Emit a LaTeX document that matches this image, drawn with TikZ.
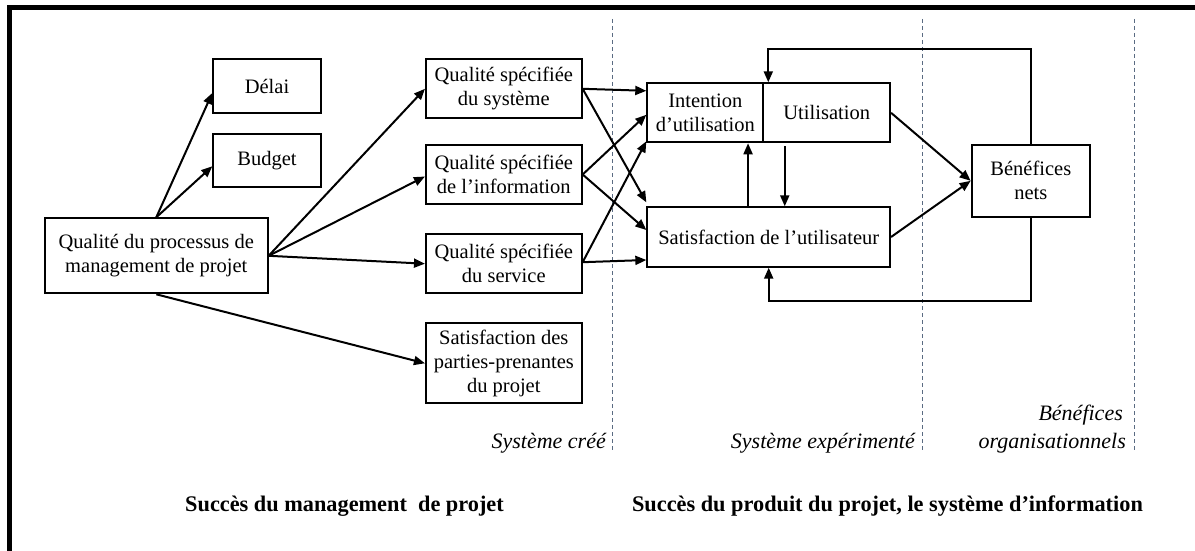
\documentclass[tikz,border=0pt]{standalone}
\usepackage{fontspec}
\setmainfont{Liberation Serif}
\usetikzlibrary{arrows.meta}
\definecolor{dashcol}{HTML}{5A6B82}
\begin{document}
\begin{tikzpicture}[x=1pt,y=-1pt,
  box/.style={draw, line width=2pt, inner sep=0pt, align=center, font=\fontsize{20.5}{24}\selectfont},
  arr/.style={line width=2pt, -{Triangle[length=11pt,width=9pt]}},
  sepline/.style={dashcol, line width=1pt, dash pattern=on 4pt off 3pt},
  zone/.style={font=\fontsize{22}{24}\selectfont\itshape, inner sep=0pt},
  titletext/.style={font=\fontsize{22.3}{26}\selectfont\bfseries, inner sep=0pt}]
\useasboundingbox (0,0) rectangle (1195,551);
% frame (top and left edges)
\fill (7,5) rectangle (1195,10);
\fill (7,5) rectangle (12,551);

% dashed separators
\coordinate (d1t) at (612.3,19);  \coordinate (d1b) at (612.3,450);
\coordinate (d2t) at (922.3,19);  \coordinate (d2b) at (922.3,450);
\coordinate (d3t) at (1134,19);   \coordinate (d3b) at (1134,450);
\draw[sepline] (d1t) -- (d1b);
\draw[sepline] (d2t) -- (d2b);
\draw[sepline] (d3t) -- (d3b);

% boxes
\node[box, minimum width=107.4pt, minimum height=53.4pt] (delai) at (267,86) {Délai};
\node[box, minimum width=107.4pt, minimum height=52.7pt] (budget) at (267,160.3) {Budget};
\node[box, minimum width=222.7pt, minimum height=75pt] (proc) at (156.3,255.8) {Qualité du processus de\\management de projet};
\node[box, minimum width=155.7pt, minimum height=59pt] (qsys) at (503.8,88.8) {Qualité spécifiée\\du système};
\node[box, minimum width=155.7pt, minimum height=59pt] (qinfo) at (503.8,174.5) {Qualité spécifiée\\de l’information};
\node[box, minimum width=155.7pt, minimum height=59.3pt] (qserv) at (503.8,263.7) {Qualité spécifiée\\du service};
\node[box, minimum width=155.7pt, minimum height=80pt] (spp) at (503.8,363.3) {Satisfaction des\\parties-prenantes\\du projet};
\node[box, minimum width=116pt, minimum height=59pt] (intention) at (705.3,112.8) {Intention\\d’utilisation};
\node[box, minimum width=126.7pt, minimum height=59pt] (util) at (826.7,112.8) {Utilisation};
\node[box, minimum width=242.7pt, minimum height=59.4pt] (sat) at (768.7,237) {Satisfaction de l’utilisateur};
\node[box, minimum width=118.3pt, minimum height=71.7pt] (ben) at (1030.8,180.8) {Bénéfices\\nets};

% arrows from project process
\draw[arr] (proc.north) -- ([yshift=-7pt]delai.west);
\draw[arr] (proc.north) -- ([yshift=-6pt]budget.west);
\draw[arr] (proc.east) -- (qsys.west);
\draw[arr] (proc.east) -- ([yshift=-2pt]qinfo.west);
\draw[arr] (proc.east) -- (qserv.west);
\draw[arr] (proc.south) -- (spp.west);

% crossing arrows
\draw[arr] (qsys.east) -- ([yshift=22pt]intention.west);
\draw[arr] (qsys.east) -- ([yshift=4pt]sat.north west);
\draw[arr] (qinfo.east) -- ([yshift=-2pt]intention.west);
\draw[arr] (qinfo.east) -- ([yshift=7pt]sat.west);
\draw[arr] ([yshift=1.5pt]qserv.east) -- ([yshift=2pt]intention.south west);
\draw[arr] ([yshift=1.5pt]qserv.east) -- ([yshift=-23pt]sat.west);

% right part
\draw[arr] (util.east) -- (ben.west);
\draw[arr] (sat.east) -- (ben.west);
\draw[arr] ([xshift=101.7pt]sat.north west) -- ([xshift=101.7pt]sat.north west |- intention.south);
\draw[arr] ([xshift=22.4pt,yshift=-3pt]util.south west) -- ([xshift=22.4pt]util.south west |- sat.north);

\coordinate (fbt) at (768.3,49.3);
\coordinate (fbb) at (768.7,300.7);
\draw[arr] (ben.north) -- (ben.north |- fbt) -- (fbt) -- (fbt |- util.north);
\draw[arr] (ben.south) -- (ben.south |- fbb) -- (fbb) -- (sat.south);

% zone labels
\node[zone, anchor=base east] (lcree) at (606,448) {Système créé};
\node[zone, anchor=base east] (lexp) at (915,448) {Système expérimenté};
\node[zone, anchor=base east] (lben1) at (1123,420) {Bénéfices};
\node[zone, anchor=base east] (lben2) at (1126,448) {organisationnels};

% titles
\node[titletext, anchor=base] (t1) at (344.5,511) {Succès du management\ \ de projet};
\node[titletext, anchor=base] (t2) at (887.5,511) {Succès du produit du projet, le système d’information};
\end{tikzpicture}
\end{document}
